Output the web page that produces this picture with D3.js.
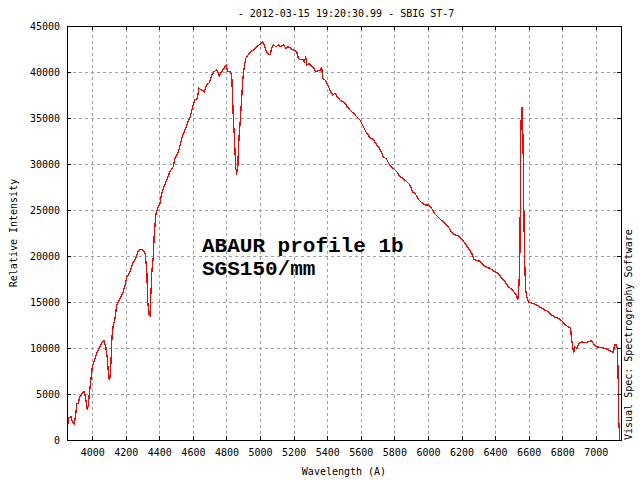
<!DOCTYPE html>
<html>
<head>
<meta charset="utf-8">
<script src="https://cdn.jsdelivr.net/npm/d3@7"></script>
<style>
  html, body { margin: 0; padding: 0; background: #fff; }
  svg { display: block; }
  text { font-family: "DejaVu Sans Mono", "Liberation Mono", monospace; font-size: 10px; fill: #000; }
</style>
</head>
<body>
<svg id="chart" width="640" height="480"></svg>
<script>
const titleText = "- 2012-03-15 19:20:30.99 - SBIG ST-7";
const xLabel = "Wavelength (A)";
const yLabel = "Relative Intensity";
const sideNote = "Visual Spec: Spectrography Software";
const annotation = ["ABAUR profile 1b", "SGS150/mm"];

const xTicks = [4000,4200,4400,4600,4800,5000,5200,5400,5600,5800,6000,6200,6400,6600,6800,7000];
const yTicks = [0,5000,10000,15000,20000,25000,30000,35000,40000,45000];

const wavelength = [
3852,3858,3874,3882,3892,3902,3908,3917,3927,3944,3953,3961,3971,3977,3983,3991,
4001,4007,4023,4036,4051,4063,4070,4081,4090,4098,4104,4110,4118,4126,4136,4146,
4166,4185,4196,4206,4225,4241,4255,4275,4291,4305,4315,4325,4331,4338,4344,4349,
4356,4364,4370,4380,4392,4404,4414,4424,4444,4463,4483,4493,4513,4527,4539,4553,
4567,4583,4596,4612,4626,4636,4652,4668,4682,4698,4712,4726,4742,4757,4772,4785,
4797,4807,4821,4831,4837,4841,4847,4855,4861,4867,4870,4875,4881,4891,4897,4906,
4915,4924,4936,4946,4960,4970,4980,4994,5006,5016,5024,5035,5043,5059,5069,5079,
5095,5109,5123,5139,5155,5168,5184,5198,5218,5228,5238,5254,5264,5272,5278,5293,
5308,5321,5333,5347,5361,5367,5373,5387,5397,5407,5421,5433,5446,5460,5476,5492,
5506,5522,5536,5552,5566,5579,5595,5615,5635,5655,5675,5695,5715,5734,5754,5774,
5794,5814,5834,5853,5873,5893,5907,5923,5943,5963,5983,6002,6022,6042,6062,6082,
6102,6121,6141,6161,6181,6201,6221,6240,6261,6274,6290,6310,6330,6350,6370,6389,
6419,6439,6459,6479,6499,6519,6529,6535,6539,6545,6549,6550,6554,6560,6564,6568,
6572,6576,6582,6588,6598,6618,6638,6657,6678,6697,6717,6737,6757,6777,6797,6817,
6836,6850,6854,6862,6868,6874,6886,6900,6916,6936,6956,6972,6985,7001,7025,7055,
7085,7105,7111,7121,7129,7133,7137,7143
];
const intensity = [
1090,2360,2540,1990,1740,2720,3990,4000,4710,5140,5250,4530,3260,3800,5070,6340,
7970,8330,9240,9780,10330,10690,10790,10140,8880,6880,6520,7610,11230,12500,13230,14670,
15400,16120,16850,17680,18290,19200,19570,20580,20730,20580,20290,18480,15030,13590,13480,15580,
18480,19930,22470,24600,25300,25730,26820,27360,28260,29170,29710,30620,31340,32250,33150,33700,
34420,35080,36060,36960,37140,38230,38040,37860,38590,38840,39680,40040,40220,39570,40040,40400,
40760,40040,40040,39680,36960,34790,32970,29530,29060,29350,31160,32970,34420,37320,39130,40580,
41490,41740,42030,42210,42390,42570,42750,42940,43120,43300,42940,42390,42030,41850,42570,42940,
42750,42940,42750,42940,42570,42750,42570,42390,42210,41490,41310,41380,41130,41670,40760,40940,
40650,40400,40040,40150,40220,40580,39310,39130,38840,38400,37860,37500,37680,37320,36960,36780,
36600,36160,35870,35580,35330,35080,34790,34060,33340,32900,32610,32070,31600,30800,30510,29790,
29530,29170,28620,28440,28080,27720,26990,26820,26160,25800,25540,25540,25180,24570,24210,23840,
23550,23190,22540,22280,22180,21820,21380,20840,20290,19640,19490,19450,19020,18770,18660,18400,
18120,17580,17210,16660,16380,15950,15650,15220,15760,18120,21560,28620,34420,36230,35150,30070,
23910,19570,16300,15650,15030,14860,14780,14570,14320,14130,13950,13590,13340,13230,12970,12500,
12320,12140,11230,10140,9420,10140,9970,10510,10690,10580,10690,10790,10510,10140,10070,9970,
9710,9490,10330,10330,9970,6880,1990,0
];

const svg = d3.select("#chart");
const L = 67, R = 621, T = 26, B = 440;
const x = d3.scaleLinear().domain([3850, 7150]).range([L, R]);
const y = d3.scaleLinear().domain([0, 45000]).range([B, T]);

// grid
const grid = svg.append("g").attr("stroke", "#a0a0a0").attr("stroke-dasharray", "3,3")
  .attr("shape-rendering", "crispEdges");
grid.selectAll("line.v").data(xTicks).join("line").attr("class", "v")
  .attr("x1", d => Math.round(x(d)) + 0.5).attr("x2", d => Math.round(x(d)) + 0.5)
  .attr("y1", B).attr("y2", T);
grid.selectAll("line.h").data(yTicks.filter(d => d > 0 && d < 45000)).join("line").attr("class", "h")
  .attr("y1", d => Math.round(y(d)) + 0.5).attr("y2", d => Math.round(y(d)) + 0.5)
  .attr("x1", L).attr("x2", R);

// annotation
const ann = svg.append("g");
annotation.forEach((t, i) => {
  ann.append("text").attr("x", 202).attr("y", 252 + i * 22.5)
    .style("font-family", "'Liberation Mono', 'Courier New', monospace")
    .style("font-weight", "bold").style("font-size", "21px").text(t);
});

// spectrum line
const pts = wavelength.map((w, i) => [w, intensity[i]]);
svg.append("path").datum(pts)
  .attr("fill", "none").attr("stroke", "#ff0000").attr("stroke-width", 1.3)
  .attr("stroke-linejoin", "miter").attr("shape-rendering", "crispEdges")
  .attr("d", d3.line().x(d => x(d[0])).y(d => y(d[1])));

// axes
const styleAxis = g => {
  g.select(".domain").remove();
  g.selectAll(".tick line").attr("stroke", "#000").attr("shape-rendering", "crispEdges");
  g.selectAll("text").style("font-family", "'DejaVu Sans Mono', monospace").style("font-size", "10px").attr("fill", "#000");
};
svg.append("g").attr("transform", `translate(0,${B})`)
  .call(d3.axisBottom(x).tickValues(xTicks).tickFormat(d3.format("d")).tickSize(-4).tickPadding(9))
  .call(styleAxis);
svg.append("g").attr("transform", `translate(0,${T})`)
  .call(d3.axisTop(x).tickValues(xTicks).tickFormat("").tickSize(-4))
  .call(styleAxis);
svg.append("g").attr("transform", `translate(${L},0)`)
  .call(d3.axisLeft(y).tickValues(yTicks).tickFormat(d3.format("d")).tickSize(-4).tickPadding(7))
  .call(styleAxis);
svg.append("g").attr("transform", `translate(${R},0)`)
  .call(d3.axisRight(y).tickValues(yTicks).tickFormat("").tickSize(-4))
  .call(styleAxis);

// border
svg.append("rect").attr("x", L + 0.5).attr("y", T + 0.5).attr("width", R - L).attr("height", B - T)
  .attr("fill", "none").attr("stroke", "#000").attr("shape-rendering", "crispEdges");

// titles
svg.append("text").attr("x", 346).attr("y", 17).attr("text-anchor", "middle").text(titleText);
svg.append("text").attr("x", 344).attr("y", 475).attr("text-anchor", "middle").text(xLabel);
svg.append("text").attr("transform", `translate(17,233) rotate(-90)`).attr("text-anchor", "middle").text(yLabel);
svg.append("text").attr("transform", `translate(632,440) rotate(-90)`).attr("text-anchor", "start").text(sideNote);
</script>
</body>
</html>
